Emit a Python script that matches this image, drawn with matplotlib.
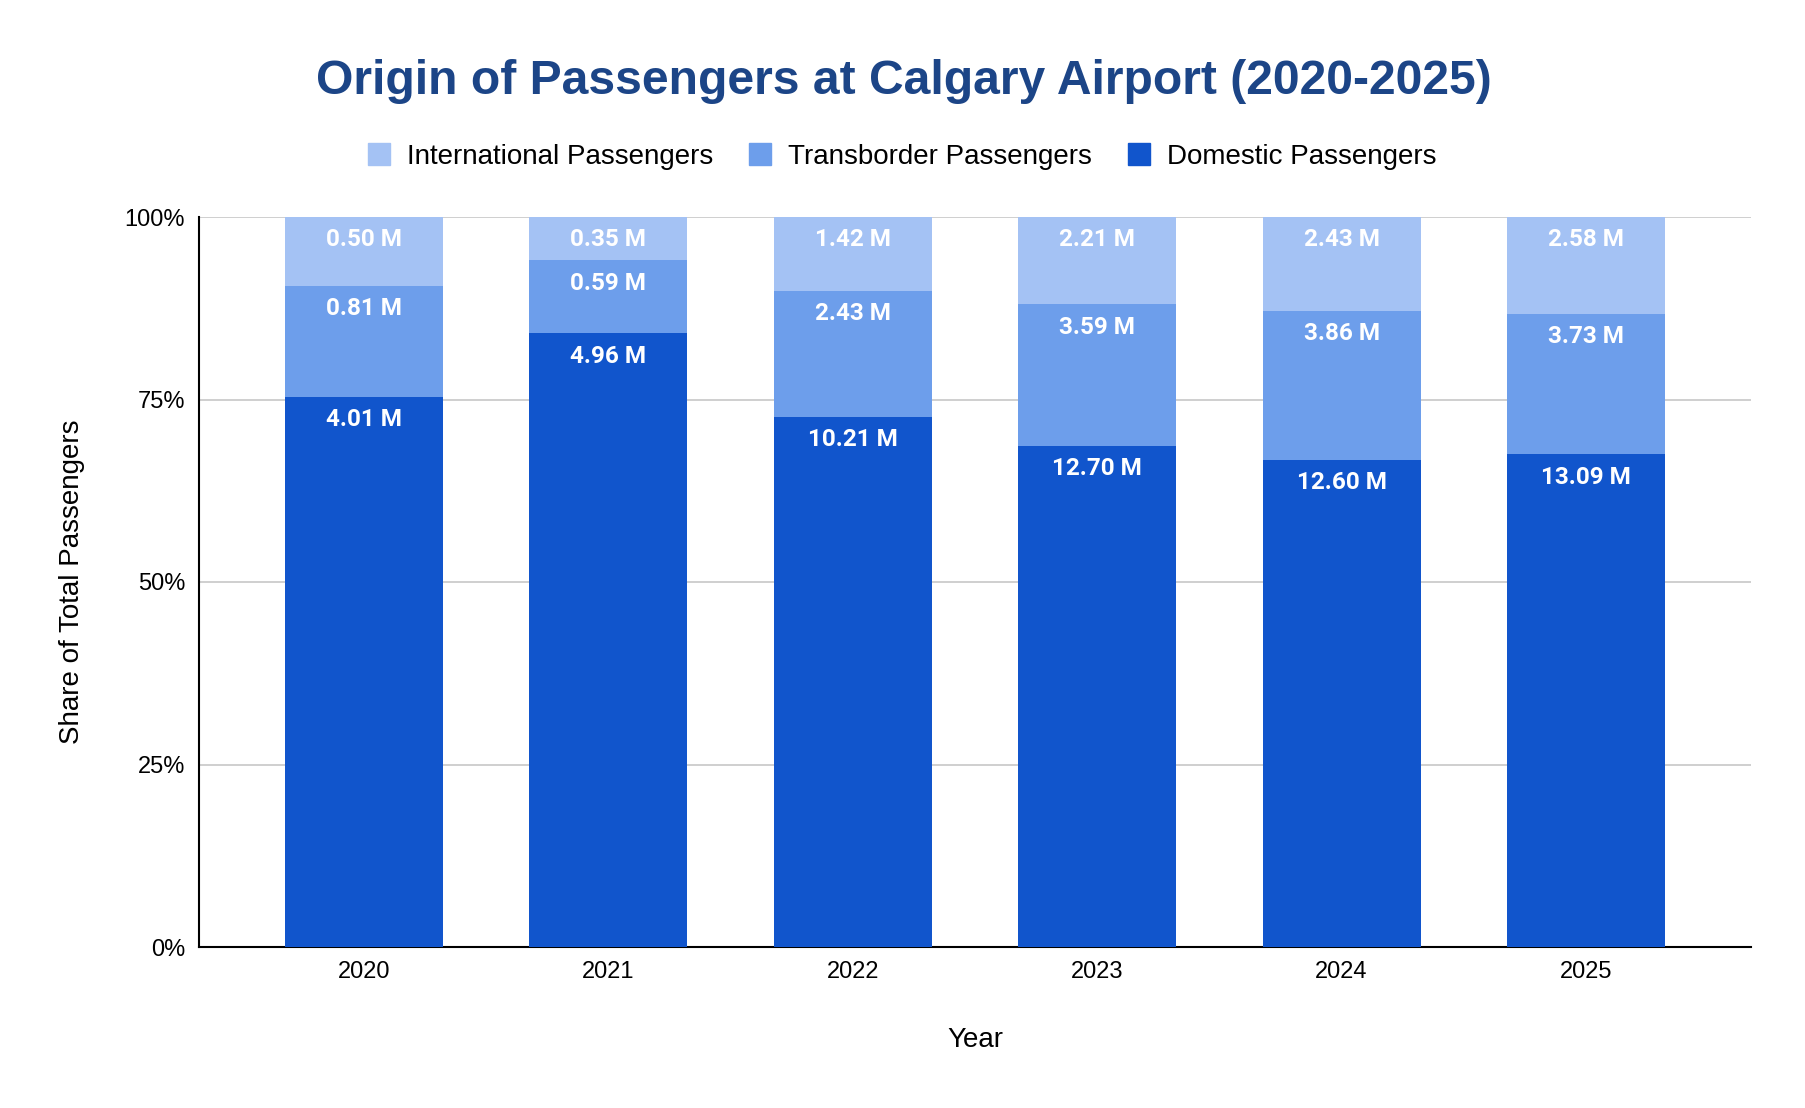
import matplotlib
matplotlib.use("Agg")
import matplotlib.pyplot as plt
import numpy as np
from matplotlib.lines import Line2D

years = ["2020", "2021", "2022", "2023", "2024", "2025"]
domestic = [4.01, 4.96, 10.21, 12.70, 12.60, 13.09]
transborder = [0.81, 0.59, 2.43, 3.59, 3.86, 3.73]
international = [0.50, 0.35, 1.42, 2.21, 2.43, 2.58]
series_names = ["International Passengers", "Transborder Passengers", "Domestic Passengers"]
y_ticks = [0, 25, 50, 75, 100]

colors = {"Domestic Passengers": "#1155cc",
          "Transborder Passengers": "#6d9eeb",
          "International Passengers": "#a4c2f4"}

ARIAL = ["Liberation Sans", "DejaVu Sans"]
plt.rcParams['font.family'] = ARIAL

fig = plt.figure(figsize=(18.06, 11.08), dpi=100)
ax = fig.add_axes([199/1806, 1 - 947/1108, (1751-199)/1806, (947-217)/1108])

dom = np.array(domestic)
tra = np.array(transborder)
intl = np.array(international)
tot = dom + tra + intl
dp = dom / tot * 100
tp = tra / tot * 100
ip = intl / tot * 100

x = np.arange(len(years))
w = 0.646
stacks = [("Domestic Passengers", dp, np.zeros_like(dp), dom),
          ("Transborder Passengers", tp, dp, tra),
          ("International Passengers", ip, dp + tp, intl)]
for name, h, b, vals in stacks:
    ax.bar(x, h, w, bottom=b, color=colors[name], zorder=3, linewidth=0)
    for xi, hi, bi, v in zip(x, h, b, vals):
        ax.annotate(f"{v:.2f} M", (xi, bi + hi), xytext=(0, -16.5), textcoords="offset points",
                    ha="center", va="center", color="white", fontsize=17.5, fontweight="bold",
                    family=["Roboto", "DejaVu Sans"], zorder=4)

ax.set_xlim(-0.675, len(years) - 1 + 0.675)
ax.set_ylim(0, 100)
ax.set_yticks(y_ticks)
ax.set_yticklabels([f"{t}%" for t in y_ticks], fontsize=17)
ax.set_xticks(x)
ax.set_xticklabels(years, fontsize=17)
ax.tick_params(axis="y", length=0, pad=10)
ax.tick_params(axis="x", length=0, pad=10)
ax.grid(axis="y", color="#cccccc", linewidth=1.3, zorder=0)
for s in ["top", "right"]:
    ax.spines[s].set_visible(False)
for s in ["left", "bottom"]:
    ax.spines[s].set_color("black")
    ax.spines[s].set_linewidth(1.5)
ax.set_xlabel("Year", fontsize=20, labelpad=31.5)
ax.set_ylabel("Share of Total Passengers", fontsize=20, labelpad=28.5)

fig.text(904/1806, 1 - 81.5/1108, "Origin of Passengers at Calgary Airport (2020-2025)",
         ha="center", va="center", fontsize=34.6, fontweight="bold", color="#1c4587")

handles = [Line2D([0], [0], marker="s", linestyle="none", markersize=15.5,
                  markerfacecolor=colors[n], markeredgecolor=colors[n]) for n in series_names]
fig.legend(handles, series_names, loc="center", bbox_to_anchor=(902/1806, 1 - 156.5/1108),
           ncol=3, frameon=False, fontsize=20, handlelength=0.8, handletextpad=0.6,
           columnspacing=1.3)

fig.savefig("out.png", dpi=100, facecolor="white")
